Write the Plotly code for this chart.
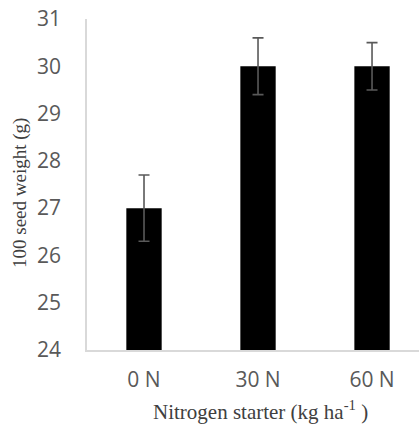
import plotly.graph_objects as go

categories = ["0 N", "30 N", "60 N"]
seed_weight = [27.0, 30.0, 30.0]
err = [0.7, 0.6, 0.5]
y_ticks = [24, 25, 26, 27, 28, 29, 30, 31]

W, H = 419, 426
L, R, T, B = 87, 0, 19, 76

fig = go.Figure()
fig.add_trace(go.Bar(
    x=list(range(len(categories))),
    y=[v - 24 for v in seed_weight],
    base=24,
    width=0.31,
    marker=dict(color="black", line=dict(width=0)),
    error_y=dict(type="data", array=err, visible=True, color="#595959", thickness=1.6, width=5.5),
))

fig.update_layout(
    width=W, height=H,
    margin=dict(l=L, r=R, t=T, b=B, pad=0),
    plot_bgcolor="white", paper_bgcolor="white",
    showlegend=False,
    xaxis=dict(
        range=[-0.5, 2.412], tickvals=list(range(len(categories))), ticktext=categories,
        showline=True, linecolor="#d9d9d9", linewidth=1.5, showgrid=False, zeroline=False,
        ticks="", tickfont=dict(family="Open Sans", size=21, color="#595959"),
        ticklabelstandoff=10,
    ),
    yaxis=dict(
        range=[24, 31], tickvals=y_ticks,
        showline=True, linecolor="#d9d9d9", linewidth=1.5, showgrid=False, zeroline=False,
        ticks="", tickfont=dict(family="Open Sans", size=21, color="#595959"),
        ticklabelstandoff=20,
    ),
    annotations=[
        dict(text="100 seed weight (g)", textangle=-90, xref="paper", yref="paper",
             x=(20 - L) / (W - L - R), y=(H - B - 193) / (H - T - B), xanchor="center", yanchor="middle",
             showarrow=False, font=dict(family="Liberation Serif", size=19, color="#404040")),
        dict(text="Nitrogen starter (kg ha<sup>-1</sup> )", xref="paper", yref="paper",
             x=(260 - L) / (W - L - R), y=(H - B - 410) / (H - T - B), xanchor="center", yanchor="middle",
             showarrow=False, font=dict(family="Liberation Serif", size=21, color="#404040")),
    ],
)

fig.write_html("out.html")
